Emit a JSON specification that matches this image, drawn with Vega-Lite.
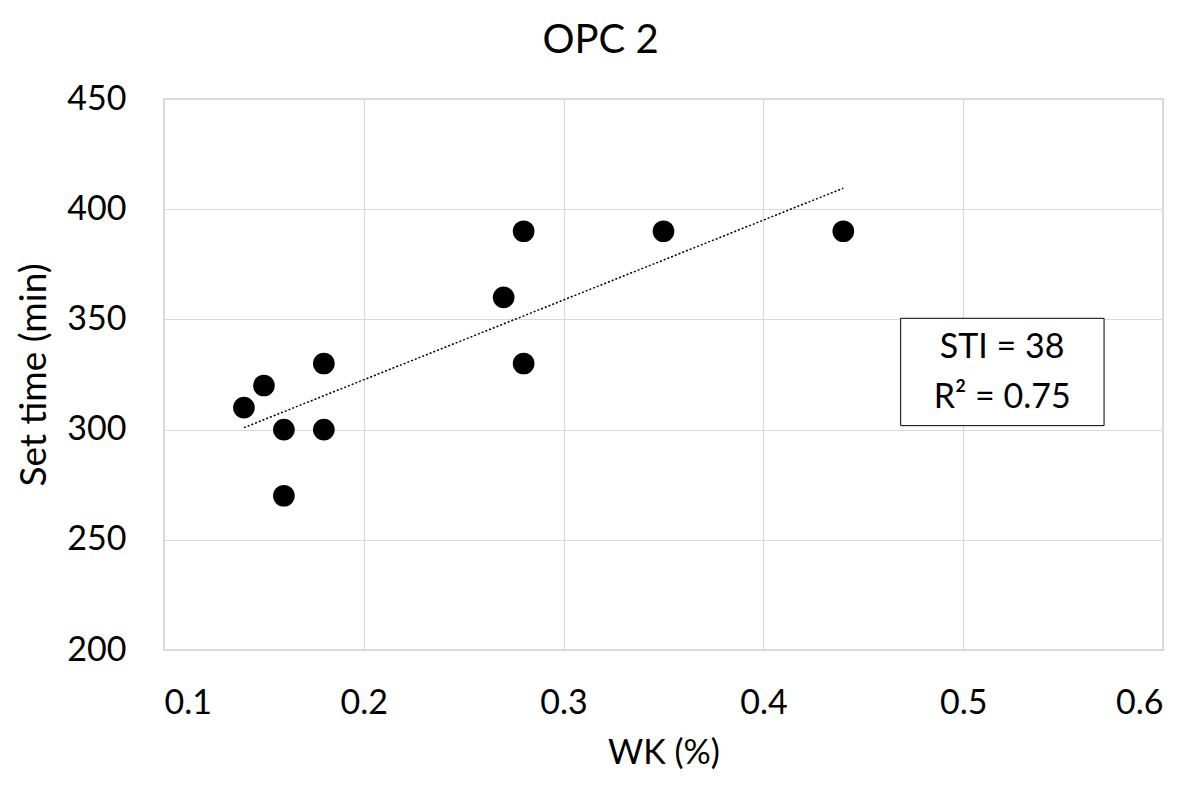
{
  "$schema": "https://vega.github.io/schema/vega-lite/v6.json",
  "autosize": {"type": "none"},
  "width": 999,
  "height": 551,
  "padding": {"left": 164, "top": 99, "right": 37, "bottom": 141},
  "background": "white",
  "title": {"text": "OPC 2", "font": "Lato", "fontSize": 40, "fontWeight": "normal", "color": "#000000", "offset": 21, "anchor": "middle", "dx": -63},
  "config": {
    "view": {"stroke": "#d0d0d0", "strokeWidth": 1.5},
    "axis": {
      "labelFont": "Lato", "labelFontSize": 34, "labelColor": "#000000",
      "titleFont": "Lato", "titleFontSize": 34, "titleFontWeight": "normal", "titleColor": "#000000",
      "gridColor": "#d9d9d9", "gridWidth": 1.2, "domain": false, "ticks": false
    }
  },
  "datasets": {
    "pts": [
      {"wk": 0.14, "set": 310},
      {"wk": 0.15, "set": 320},
      {"wk": 0.16, "set": 300},
      {"wk": 0.16, "set": 270},
      {"wk": 0.18, "set": 330},
      {"wk": 0.18, "set": 300},
      {"wk": 0.27, "set": 360},
      {"wk": 0.28, "set": 390},
      {"wk": 0.28, "set": 330},
      {"wk": 0.35, "set": 390},
      {"wk": 0.44, "set": 390}
    ],
    "box": [{"x1": 0.4687, "x2": 0.5705, "y1": 301.8, "y2": 350.5}],
    "lbl": [
      {"tx": 0.5195, "ty": 336.8, "t": "STI = 38"},
      {"tx": 0.5195, "ty": 314.5, "t": "R² = 0.75"}
    ]
  },
  "layer": [
    {
      "data": {"name": "pts"},
      "mark": {"type": "circle", "size": 470, "color": "#000000", "opacity": 1},
      "encoding": {
        "x": {"field": "wk", "type": "quantitative", "title": "WK (%)",
              "scale": {"domain": [0.1, 0.6], "nice": false, "zero": false},
              "axis": {"values": [0.1, 0.2, 0.3, 0.4, 0.5, 0.6], "format": ".1f", "labelPadding": 36, "titlePadding": 16}},
        "y": {"field": "set", "type": "quantitative", "title": "Set time (min)",
              "scale": {"domain": [200, 450], "nice": false, "zero": false},
              "axis": {"values": [200, 250, 300, 350, 400, 450], "labelPadding": 38, "titlePadding": 13, "titleFontSize": 37}}
      }
    },
    {
      "data": {"name": "pts"},
      "transform": [{"regression": "set", "on": "wk", "extent": [0.14, 0.44]}],
      "mark": {"type": "line", "color": "#000000", "strokeWidth": 1.5, "strokeDash": [2, 2]},
      "encoding": {
        "x": {"field": "wk", "type": "quantitative"},
        "y": {"field": "set", "type": "quantitative"}
      }
    },
    {
      "data": {"name": "box"},
      "mark": {"type": "rect", "fill": "#ffffff", "stroke": "#000000", "strokeWidth": 1},
      "encoding": {
        "x": {"field": "x1", "type": "quantitative"},
        "x2": {"field": "x2"},
        "y": {"field": "y1", "type": "quantitative"},
        "y2": {"field": "y2"}
      }
    },
    {
      "data": {"name": "lbl"},
      "mark": {"type": "text", "font": "Lato", "fontSize": 34, "color": "#000000", "align": "center", "baseline": "middle"},
      "encoding": {
        "x": {"field": "tx", "type": "quantitative"},
        "y": {"field": "ty", "type": "quantitative"},
        "text": {"field": "t"}
      }
    }
  ]
}
